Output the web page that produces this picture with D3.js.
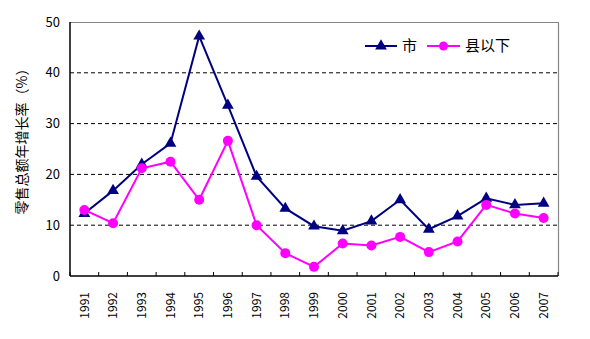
<!DOCTYPE html>
<html><head><meta charset="utf-8">
<script src="https://cdn.jsdelivr.net/npm/d3@7"></script>
<style>body{margin:0;background:#fff}svg{display:block}</style>
</head><body>
<svg id="c" width="590" height="339"></svg>
<script>
const years = ["1991","1992","1993","1994","1995","1996","1997","1998","1999","2000","2001","2002","2003","2004","2005","2006","2007"];
const cityValues = [12.3,16.8,22.0,26.1,47.2,33.6,19.6,13.3,9.8,8.9,10.8,15.0,9.2,11.8,15.3,14.0,14.3];
const countyValues = [13.0,10.4,21.2,22.5,15.0,26.6,10.0,4.5,1.8,6.4,6.0,7.7,4.7,6.8,14.0,12.3,11.4];
const yTicks = [0,10,20,30,40,50];
const seriesNames = ["市","县以下"];
const yTitle = "零售总额年增长率（%）";

const svg = d3.select("#c");
const L = 70, R = 558, T = 22, B = 276;
const font = "'Noto Sans CJK SC', 'Liberation Sans', sans-serif";

const x = d3.scaleBand().domain(years).range([L, R]);
const y = d3.scaleLinear().domain([0, 50]).range([B, T]);

// grid lines
svg.append("g").selectAll("line").data(yTicks.filter(d => d > 0 && d < 50)).join("line")
  .attr("x1", L).attr("x2", R).attr("y1", d => y(d)).attr("y2", d => y(d))
  .attr("stroke", "#000").attr("stroke-width", 1).attr("stroke-dasharray", "4,3");

// top/right border
svg.append("path").attr("d", `M${L},${T+0.5}H${R+0.5}V${B}`).attr("fill","none").attr("stroke","#888").attr("stroke-width",1.2);

// x axis
const xAxis = d3.axisBottom(x).tickSize(0).tickFormat(d => d);
const gx = svg.append("g").attr("transform", `translate(0,${B})`).call(xAxis);
gx.select(".domain").remove();
gx.selectAll("text").attr("transform", "rotate(-90)").attr("text-anchor", "end")
  .attr("x", -16).attr("y", 0).attr("dy", "0.35em")
  .style("font-family", font).style("font-size", "12px").attr("fill", "#000");
// boundary ticks (inward)
const bounds = years.map(d => x(d)).concat([R]);
svg.append("g").selectAll("line").data(bounds).join("line")
  .attr("x1", d => d).attr("x2", d => d).attr("y1", B).attr("y2", B - 4)
  .attr("stroke", "#000").attr("stroke-width", 1);
svg.append("line").attr("x1", L).attr("x2", R).attr("y1", B).attr("y2", B).attr("stroke", "#000").attr("stroke-width", 1.5);

// y axis
const yAxis = d3.axisLeft(y).tickValues(yTicks).tickSize(0).tickPadding(10);
const gy = svg.append("g").attr("transform", `translate(${L},0)`).call(yAxis);
gy.select(".domain").remove();
gy.selectAll("text").style("font-family", font).style("font-size", "13px").attr("fill", "#000");
svg.append("line").attr("x1", L).attr("x2", L).attr("y1", T).attr("y2", B).attr("stroke", "#000").attr("stroke-width", 1.5);

// y title
svg.append("text").attr("transform", `translate(22,${(63+213)/2}) rotate(-90)`)
  .attr("text-anchor", "middle").attr("dy", "0.35em")
  .style("font-family", font).style("font-size", "14px").attr("fill", "#000").text(yTitle);

const cx = d => x(d) + x.bandwidth() / 2;
const line = d3.line().x(d => cx(d.year)).y(d => y(d.v));
const city = years.map((yr, i) => ({year: yr, v: cityValues[i]}));
const county = years.map((yr, i) => ({year: yr, v: countyValues[i]}));

const cityColor = "#000080", countyColor = "#ff00ff";
svg.append("path").datum(city).attr("d", line).attr("fill", "none").attr("stroke", cityColor).attr("stroke-width", 2);
const tri = d3.symbol().type(d3.symbolTriangle).size(60);
svg.append("g").selectAll("path").data(city).join("path")
  .attr("d", tri).attr("transform", d => `translate(${cx(d.year)},${y(d.v)})`).attr("fill", cityColor);

svg.append("path").datum(county).attr("d", line).attr("fill", "none").attr("stroke", countyColor).attr("stroke-width", 2);
svg.append("g").selectAll("circle").data(county).join("circle")
  .attr("cx", d => cx(d.year)).attr("cy", d => y(d.v)).attr("r", 5).attr("fill", countyColor);

// legend
const lg = svg.append("g");
const ly = 46;
lg.append("line").attr("x1", 365).attr("x2", 397).attr("y1", ly).attr("y2", ly).attr("stroke", cityColor).attr("stroke-width", 2);
lg.append("path").attr("d", tri).attr("transform", `translate(381,${ly})`).attr("fill", cityColor);
lg.append("text").attr("x", 402).attr("y", ly).attr("dy", "0.35em").style("font-family", font).style("font-size", "15px").attr("fill", "#000").text(seriesNames[0]);
lg.append("line").attr("x1", 427).attr("x2", 460).attr("y1", ly).attr("y2", ly).attr("stroke", countyColor).attr("stroke-width", 2);
lg.append("circle").attr("cx", 443.5).attr("cy", ly).attr("r", 4.5).attr("fill", countyColor);
lg.append("text").attr("x", 465).attr("y", ly).attr("dy", "0.35em").style("font-family", font).style("font-size", "15px").attr("fill", "#000").text(seriesNames[1]);
</script>
</body></html>
